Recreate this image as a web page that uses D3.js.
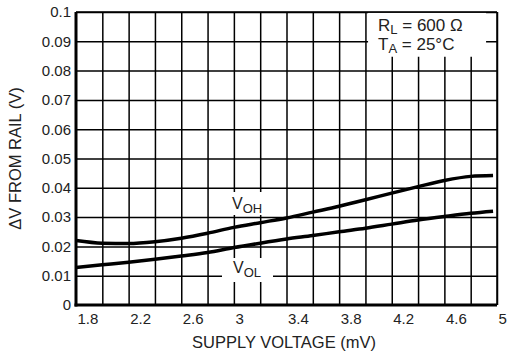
<!DOCTYPE html>
<html>
<head>
<meta charset="utf-8">
<script src="https://cdn.jsdelivr.net/npm/d3@7"></script>
<style>
  body { margin: 0; background: #fff; }
  text { font-family: "Liberation Sans", Arial, sans-serif; fill: #222; }
</style>
</head>
<body>
<div id="chart"></div>
<script>
// supply voltage samples (V) and the two curves
var supply = [1.8, 2.0, 2.2, 2.4, 2.6, 2.8, 3.0, 3.2, 3.4, 3.6, 3.8, 4.0, 4.2, 4.4, 4.6, 4.8, 4.97];
var voh = [0.0220, 0.0211, 0.0210, 0.0216, 0.0228, 0.0245, 0.0265, 0.0281, 0.0297, 0.0317, 0.0337, 0.0359, 0.0382, 0.0404, 0.0425, 0.0439, 0.0442];
var vol = [0.0128, 0.0137, 0.0146, 0.0156, 0.0167, 0.0179, 0.0196, 0.0211, 0.0225, 0.0237, 0.0250, 0.0262, 0.0276, 0.0290, 0.0302, 0.0313, 0.0320];

var xTickLabels = [1.8, 2.2, 2.6, 3, 3.4, 3.8, 4.2, 4.6, 5];
var xGrid = [2.0, 2.2, 2.4, 2.6, 2.8, 3.0, 3.2, 3.4, 3.6, 3.8, 4.0, 4.2, 4.4, 4.6, 4.8, 5.0];
var yTicks = [0, 0.01, 0.02, 0.03, 0.04, 0.05, 0.06, 0.07, 0.08, 0.09, 0.1];

var margin = {top: 12, right: 17, bottom: 50, left: 76};
var W = 514, H = 355;
var width = W - margin.left - margin.right;
var height = H - margin.top - margin.bottom;

var svg = d3.select("#chart").append("svg")
    .attr("width", W)
    .attr("height", H);
var g = svg.append("g")
    .attr("transform", "translate(" + margin.left + "," + margin.top + ")");

var x = d3.scaleLinear().domain([1.8, 5]).range([0, width]);
var y = d3.scaleLinear().domain([0, 0.1]).range([height, 0]);

// grid
g.append("g")
    .attr("transform", "translate(0," + height + ")")
    .call(d3.axisBottom(x).tickValues(xGrid).tickSize(-height).tickFormat(""))
    .call(function (a) {
        a.select(".domain").remove();
        a.selectAll("line").attr("stroke", "#000").attr("stroke-width", 1.5);
    });
g.append("g")
    .call(d3.axisLeft(y).tickValues(yTicks.slice(1)).tickSize(-width).tickFormat(""))
    .call(function (a) {
        a.select(".domain").remove();
        a.selectAll("line").attr("stroke", "#000").attr("stroke-width", 1.5);
    });

// white boxes under the text
g.append("rect").attr("x", x(4.02)).attr("y", 0.75).attr("width", 118).attr("height", 44).attr("fill", "#fff");
g.append("rect").attr("x", 146).attr("y", 180).attr("width", 50).attr("height", 23).attr("fill", "#fff");
g.append("rect").attr("x", 146).attr("y", 246).attr("width", 51).attr("height", 24).attr("fill", "#fff");

// curves
var line = d3.line()
    .x(function (d) { return x(d[0]); })
    .y(function (d) { return y(d[1]); })
    .curve(d3.curveMonotoneX);

[voh, vol].forEach(function (s) {
    g.append("path")
        .datum(supply.map(function (v, i) { return [v, s[i]]; }))
        .attr("fill", "none")
        .attr("stroke", "#000")
        .attr("stroke-width", 3.5)
        .attr("d", line);
});

// axes (thick left and bottom)
var yAxis = g.append("g")
    .call(d3.axisLeft(y).tickValues(yTicks).tickSize(0).tickPadding(5)
        .tickFormat(function (d) { return d === 0 ? "0" : +d.toFixed(2); }));
yAxis.select(".domain").remove();
yAxis.selectAll("text").attr("font-size", 15).style("font-family", "Liberation Sans, Arial, sans-serif");

var xAxis = g.append("g")
    .attr("transform", "translate(0," + height + ")")
    .call(d3.axisBottom(x).tickValues(xTickLabels).tickSize(0).tickPadding(8)
        .tickFormat(function (d) { return d; }));
xAxis.select(".domain").remove();
xAxis.selectAll("text").attr("font-size", 15).attr("text-anchor", "start").attr("dx", 1)
    .style("font-family", "Liberation Sans, Arial, sans-serif");

g.append("line").attr("x1", 0).attr("x2", width).attr("y1", 0).attr("y2", 0)
    .attr("stroke", "#000").attr("stroke-width", 1.5);
g.append("line").attr("x1", width).attr("x2", width).attr("y1", 0).attr("y2", height)
    .attr("stroke", "#000").attr("stroke-width", 1.5);
g.append("line").attr("x1", 0).attr("x2", 0).attr("y1", 0).attr("y2", height + 1.5)
    .attr("stroke", "#000").attr("stroke-width", 3);
g.append("line").attr("x1", -1.5).attr("x2", width).attr("y1", height).attr("y2", height)
    .attr("stroke", "#000").attr("stroke-width", 3);

// titles
svg.append("text")
    .attr("x", 284)
    .attr("y", 348)
    .attr("text-anchor", "middle")
    .attr("font-size", 16.5)
    .text("SUPPLY VOLTAGE (mV)");
svg.append("text")
    .attr("transform", "translate(21," + (margin.top + height / 2) + ") rotate(-90)")
    .attr("text-anchor", "middle")
    .attr("font-size", 16.5)
    .text("\u0394V FROM RAIL (V)");

// condition note
var note = svg.append("g").attr("font-size", 17);
var t1 = note.append("text").attr("x", 378).attr("y", 31);
t1.append("tspan").text("R");
t1.append("tspan").attr("font-size", 13).attr("dy", 3).text("L");
t1.append("tspan").attr("dy", -3).text(" = 600 \u03A9");
var t2 = note.append("text").attr("x", 378).attr("y", 50);
t2.append("tspan").text("T");
t2.append("tspan").attr("font-size", 13).attr("dy", 3).text("A");
t2.append("tspan").attr("dy", -3).text(" = 25\u00B0C");

// curve labels
function curveLabel(px, py, sub) {
    var t = svg.append("text").attr("x", px).attr("y", py).attr("font-size", 16);
    t.append("tspan").text("V");
    t.append("tspan").attr("font-size", 13).attr("dy", 4).text(sub);
}
curveLabel(232, 209, "OH");
curveLabel(233, 273, "OL");
</script>
</body>
</html>
